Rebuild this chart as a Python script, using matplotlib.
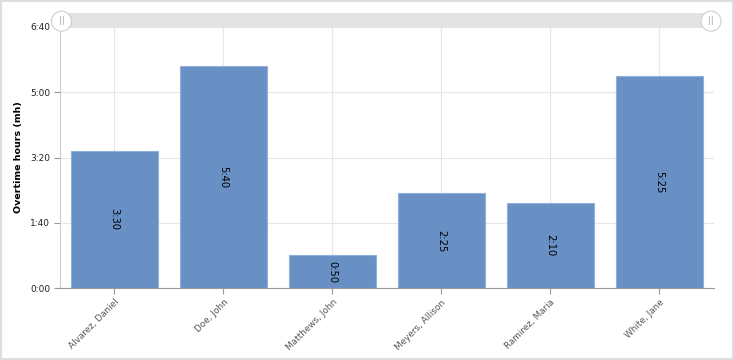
import matplotlib.pyplot as plt
from matplotlib.patches import Rectangle, Circle

names = ['Alvarez, Daniel', 'Doe, John', 'Matthews, John', 'Meyers, Allison',
         'Ramirez, Maria', 'White, Jane']
minutes = [210, 340, 50, 145, 130, 325]
y_ticks = [0, 100, 200, 300, 400]


def hm(m):
    return '%d:%02d' % (m // 60, m % 60)


fig = plt.figure(figsize=(7.34, 3.6), dpi=100)
ax = fig.add_axes([0.0817, 0.2, 0.891, 0.725])

x = list(range(len(names)))
ax.bar(x, minutes, width=0.8, color='#6990c4', edgecolor='#8fb0db', linewidth=0.8, zorder=2)
for xi, m in zip(x, minutes):
    ax.text(xi, m / 2, hm(m), rotation=270, ha='center', va='center', fontsize=7.2, color='black', zorder=3)

ax.set_xlim(-0.5, len(names) - 0.5)
ax.set_ylim(0, 400)
ax.set_yticks(y_ticks)
ax.set_yticklabels([hm(t) for t in y_ticks], fontsize=6.5, color='#222222')
ax.set_xticks(x)
ax.set_xticklabels(names, rotation=45, ha='right', rotation_mode='anchor', fontsize=6.4, color='#555555')
ax.tick_params(axis='y', length=4, color='#999999', pad=3)
ax.tick_params(axis='x', length=4, color='#999999', pad=3)
ax.grid(True, color='#e6e6e6', linewidth=0.8, zorder=0)
for s in ['top', 'right']:
    ax.spines[s].set_visible(False)
ax.spines['left'].set_color('#cccccc')
ax.spines['bottom'].set_color('#999999')
ax.set_ylabel('Overtime hours (mh)', fontsize=6.8, fontweight='bold', va='center')
ax.yaxis.set_label_coords(-0.064, 0.5)

# range scrollbar on top
l, w = 0.0817, 0.891
fig.patches.append(Rectangle((l, 0.925), w, 0.038, transform=fig.transFigure,
                             facecolor='#e3e3e3', edgecolor='none'))
for cx in [l + 0.002, l + w - 0.004]:
    fig.patches.append(Circle((cx * 734, 0.944 * 360 - 1), 10, transform=None,
                              facecolor='white', edgecolor='#cfcfcf', linewidth=0.8))
    fig.text(cx, 0.944, '||', ha='center', va='center', fontsize=6, color='#aaaaaa')

fig.patches.append(Rectangle((0.001, 0.002), 0.997, 0.996, transform=fig.transFigure,
                             facecolor='none', edgecolor='#dddddd', linewidth=1.5))

fig.savefig('out.png', dpi=100)
plt.close(fig)
